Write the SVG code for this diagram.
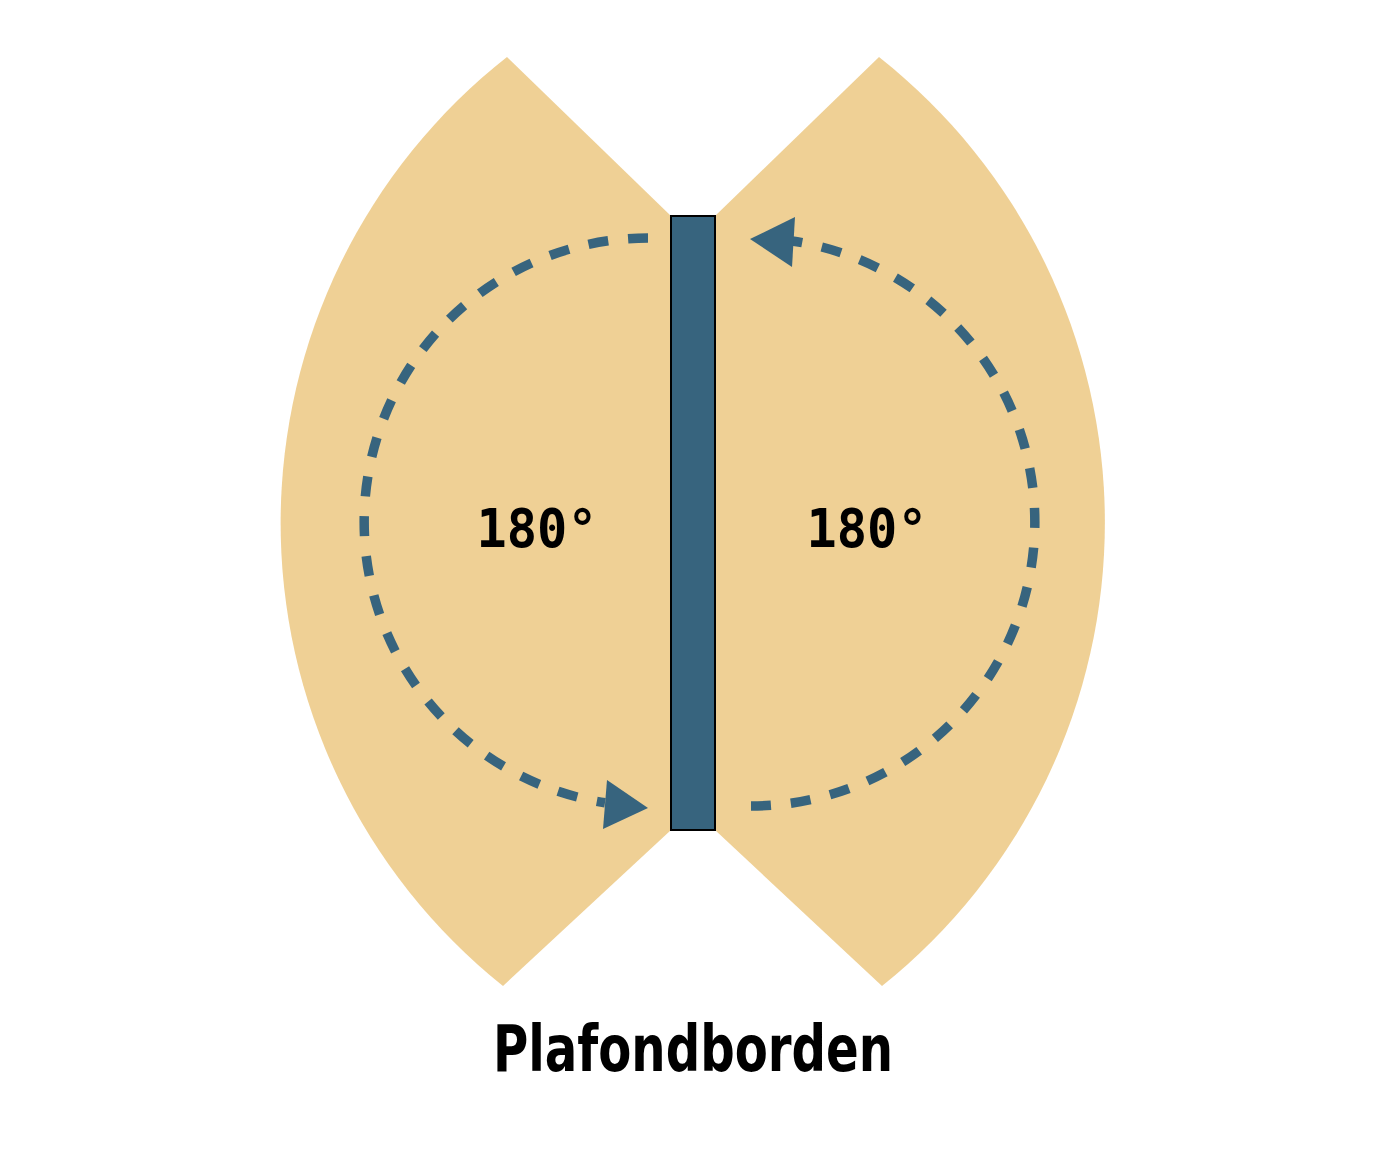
<svg xmlns="http://www.w3.org/2000/svg" width="1386" height="1166" viewBox="0 0 1386 1166">
<style>
.sector{fill:#EFD095;stroke:none}
.dash{fill:none;stroke:#37647E;stroke-width:9.5;stroke-dasharray:20 20}
.head{fill:#37647E}
.lbl{font-family:"DejaVu Sans Mono","Liberation Mono",monospace;font-weight:bold;font-size:54px;fill:#000}
.title{font-family:"DejaVu Sans Condensed","DejaVu Sans",sans-serif;font-weight:bold;font-size:64px;fill:#000}
</style>
<rect width="1386" height="1166" fill="#fff"/>
<g id="left-sector">
<path class="sector" d="M507,57 L671,216 L671,830 L503,986 A593,593 0 0 1 507,57 Z"/>
</g>
<g id="right-sector">
<path class="sector" d="M879,57 L715,216 L715,830 L882,986 A593,593 0 0 0 879,57 Z"/>
</g>
<g id="connectors">
<path class="dash" d="M648,238 A284,284 0 0 0 605,802.7"/>
<polygon class="head" points="648,808 607,780 603,829"/>
<path class="dash" d="M751,806 A284,284 0 0 0 792,241"/>
<polygon class="head" points="750,239 795,217 792,267"/>
</g>
<g id="panel">
<rect x="671" y="216" width="44" height="614" fill="#37647E" stroke="#000" stroke-width="2"/>
</g>
<g id="label-left">
<text class="lbl" x="537" y="547" text-anchor="middle" textLength="121" lengthAdjust="spacingAndGlyphs">180°</text>
</g>
<g id="label-right">
<text class="lbl" x="867" y="547" text-anchor="middle" textLength="121" lengthAdjust="spacingAndGlyphs">180°</text>
</g>
<g id="title">
<text class="title" x="693" y="1071" text-anchor="middle" textLength="400" lengthAdjust="spacingAndGlyphs">Plafondborden</text>
</g>
</svg>
